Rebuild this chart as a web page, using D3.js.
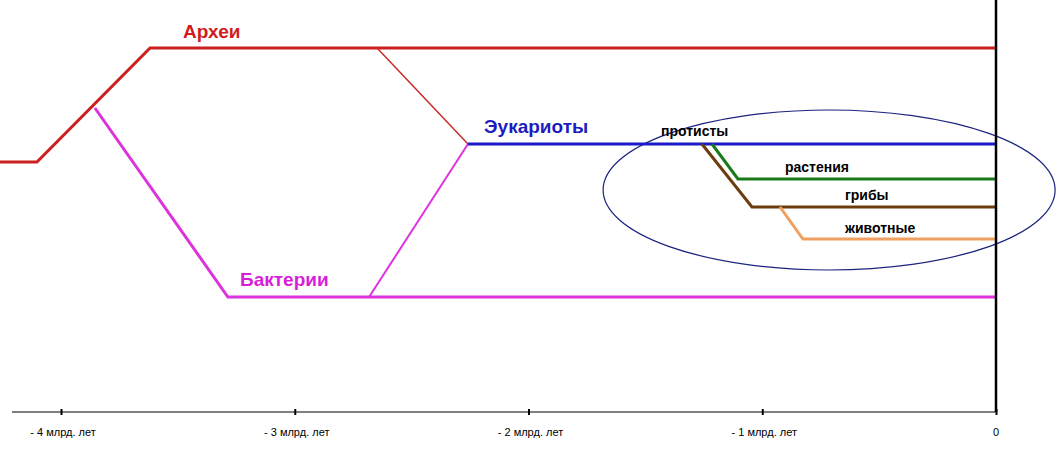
<!DOCTYPE html>
<html><head><meta charset="utf-8">
<script src="https://cdn.jsdelivr.net/npm/d3@7"></script>
<style>body{margin:0;background:#fff}</style>
</head><body>
<svg id="chart" width="1063" height="455"></svg>
<script>
// time in billions of years, level = vertical position in chart units (0 top .. 455 bottom)
var ticks = [-4, -3, -2, -1, 0];
var tickLabels = ["- 4 млрд. лет", "- 3 млрд. лет", "- 2 млрд. лет", "- 1 млрд. лет", "0"];

var archaea = [[-4.261, 162], [-4.103, 162], [-3.619, 48], [0, 48]];
var bacteria = [[-3.855, 108], [-3.286, 297], [0, 297]];
var bacteriaToEuk = [[-2.682, 297], [-2.259, 144]];
var archaeaToEuk = [[-2.648, 48], [-2.259, 144]];
var eukaryotes = [[-2.259, 144], [0, 144]];
var plants = [[-1.215, 144], [-1.104, 179], [0, 179]];
var fungi = [[-1.258, 144], [-1.044, 207], [0, 207]];
var animals = [[-0.924, 207], [-0.826, 239], [0, 239]];

var labels = [
  { text: "Археи", t: -3.478, lvl: 38, color: "#d01c1c", size: 19, bold: true },
  { text: "Эукариоты", t: -2.19, lvl: 133, color: "#1c1cc0", size: 19, bold: true },
  { text: "Бактерии", t: -3.234, lvl: 286, color: "#d81ed8", size: 19, bold: true },
  { text: "протисты", t: -1.433, lvl: 136, color: "#000", size: 14, bold: true },
  { text: "растения", t: -0.903, lvl: 172, color: "#000", size: 14, bold: true },
  { text: "грибы", t: -0.646, lvl: 200, color: "#000", size: 14, bold: true },
  { text: "животные", t: -0.646, lvl: 233, color: "#000", size: 14, bold: true }
];

var svg = d3.select("#chart");
var x = d3.scaleLinear().domain([-4.261, 0]).range([0, 996]);
var y = d3.scaleLinear().domain([0, 455]).range([0, 455]);
var line = d3.line().x(function (d) { return x(d[0]); }).y(function (d) { return y(d[1]); });

// ellipse around eukaryote groups
svg.append("ellipse")
  .attr("cx", x(-0.714)).attr("cy", y(190))
  .attr("rx", 226).attr("ry", 80)
  .attr("fill", "none").attr("stroke", "#1a237e").attr("stroke-width", 1.2);

var series = [
  [archaea, "#cc1f1f", 3],
  [archaeaToEuk, "#cc2a2a", 1.5],
  [bacteria, "#dd33dd", 3],
  [bacteriaToEuk, "#dd33dd", 2],
  [eukaryotes, "#1a1ac8", 3],
  [plants, "#1a7a1a", 3],
  [fungi, "#6b3d0e", 3],
  [animals, "#f0a060", 3]
];
series.forEach(function (s) {
  svg.append("path").datum(s[0])
    .attr("fill", "none").attr("stroke", s[1]).attr("stroke-width", s[2])
    .attr("d", line);
});

// vertical line at present
svg.append("line").attr("x1", x(0)).attr("x2", x(0)).attr("y1", 0).attr("y2", y(412))
  .attr("stroke", "#000").attr("stroke-width", 2.5);

// time axis
var axis = svg.append("g").attr("transform", "translate(0," + y(412) + ")")
  .call(d3.axisBottom(x).tickValues(ticks).tickSize(6).tickSizeOuter(0).tickFormat(""));
axis.select(".domain").attr("d", "M12,0H996").attr("stroke", "#000").attr("stroke-width", 1.2);
axis.selectAll(".tick line").attr("y1", -3).attr("y2", 3).attr("stroke-width", 2);

svg.selectAll(".tlabel").data(ticks).enter().append("text")
  .attr("x", function (d, i) { return i === 4 ? x(d) : x(d) + 2; })
  .attr("y", y(436))
  .attr("text-anchor", "middle")
  .attr("font-family", "Arial, 'Liberation Sans', sans-serif")
  .attr("font-size", 11)
  .text(function (d, i) { return tickLabels[i]; });

svg.selectAll(".lbl").data(labels).enter().append("text")
  .attr("x", function (d) { return x(d.t); })
  .attr("y", function (d) { return y(d.lvl); })
  .attr("font-family", "Arial, 'Liberation Sans', sans-serif")
  .attr("font-weight", function (d) { return d.bold ? "bold" : "normal"; })
  .attr("font-size", function (d) { return d.size; })
  .attr("fill", function (d) { return d.color; })
  .text(function (d) { return d.text; });
</script>
</body></html>
